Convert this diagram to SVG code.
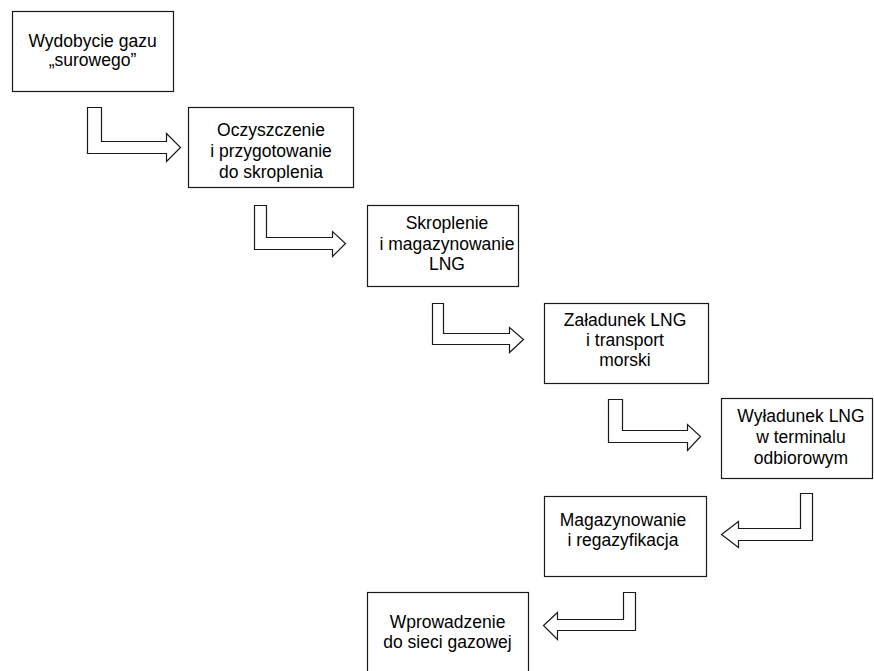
<svg xmlns="http://www.w3.org/2000/svg" width="874" height="671" viewBox="0 0 874 671">
<style>
.box{fill:#fff;stroke:#1a1a1a;stroke-width:1.2}
.arr{fill:#fff;stroke:#1a1a1a;stroke-width:1.2;stroke-linejoin:miter}
text{font-family:"Liberation Sans",Arial,sans-serif;font-size:17.5px;fill:#000;text-anchor:middle}
</style>
<rect width="874" height="671" fill="#fff"/>
<g id="connectors">
<polygon class="arr" points="87.5,107.5 101.5,107.5 101.5,141.5 166.5,141.5 166.5,133.5 180.5,147.5 166.5,161.5 166.5,153.5 87.5,153.5"/>
<polygon class="arr" points="254.5,205.5 266.5,205.5 266.5,237.5 332.5,237.5 332.5,231.5 345.5,243.5 332.5,256.5 332.5,249.5 254.5,249.5"/>
<polygon class="arr" points="432.5,303.5 443.5,303.5 443.5,333.5 509.5,333.5 509.5,327.5 523.5,339.5 509.5,352.5 509.5,344.5 432.5,344.5"/>
<polygon class="arr" points="608.5,399.5 622.5,399.5 622.5,430.5 687.5,430.5 687.5,424.5 700.5,436.5 687.5,450.5 687.5,442.5 608.5,442.5"/>
<polygon class="arr" points="812.5,493.5 800.5,493.5 800.5,528.5 738.5,528.5 738.5,521.5 721.5,534.5 738.5,547.5 738.5,540.5 812.5,540.5"/>
<polygon class="arr" points="635.5,592.5 623.5,592.5 623.5,619.5 557.5,619.5 557.5,612.5 543.5,625.5 557.5,639.5 557.5,630.5 635.5,630.5"/>
</g>
<g id="n1">
<rect class="box" x="12.5" y="11.5" width="161" height="80"/>
<text x="92.5" y="47">Wydobycie gazu</text>
<text x="92.5" y="66">„surowego”</text>
</g>
<g id="n2">
<rect class="box" x="188.5" y="107.5" width="165" height="80"/>
<text x="271" y="136">Oczyszczenie</text>
<text x="271" y="157">i przygotowanie</text>
<text x="271" y="178">do skroplenia</text>
</g>
<g id="n3">
<rect class="box" x="367.5" y="205.5" width="151" height="81"/>
<text x="447" y="229">Skroplenie</text>
<text x="447" y="250">i magazynowanie</text>
<text x="447" y="270">LNG</text>
</g>
<g id="n4">
<rect class="box" x="544.5" y="303.5" width="164" height="80"/>
<text x="625" y="326">Załadunek LNG</text>
<text x="625" y="346">i transport</text>
<text x="625" y="366">morski</text>
</g>
<g id="n5">
<rect class="box" x="721.5" y="398.5" width="151" height="80"/>
<text x="801" y="422">Wyładunek LNG</text>
<text x="801" y="443">w terminalu</text>
<text x="801" y="464">odbiorowym</text>
</g>
<g id="n6">
<rect class="box" x="544.5" y="496.5" width="162" height="80"/>
<text x="623" y="526">Magazynowanie</text>
<text x="623" y="546">i regazyfikacja</text>
</g>
<g id="n7">
<rect class="box" x="367.5" y="592.5" width="161" height="82"/>
<text x="447.5" y="628">Wprowadzenie</text>
<text x="447.5" y="648">do sieci gazowej</text>
</g>
</svg>
